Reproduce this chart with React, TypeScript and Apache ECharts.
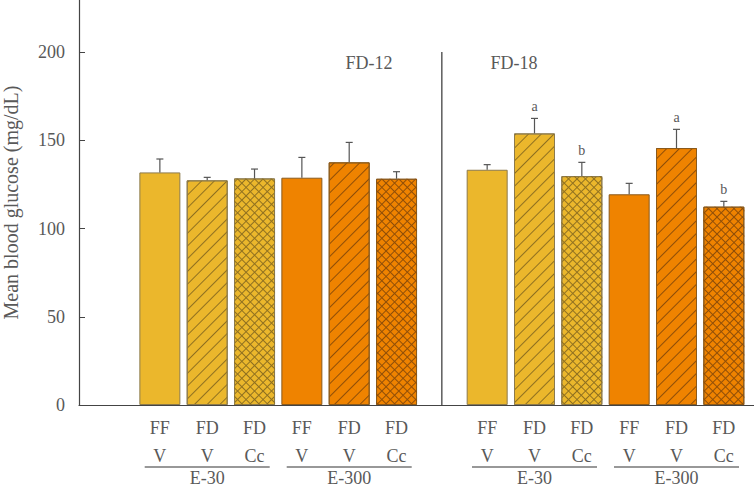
import React, { useEffect, useRef } from 'react';
import * as echarts from 'echarts';

const categories = ['FF\nV', 'FD\nV', 'FD\nCc', 'FF\nV', 'FD\nV', 'FD\nCc'];
const doseGroups = ['E-30', 'E-300'];
const periods = ['FD-12', 'FD-18'];
const meansFD12 = [131.8, 127.3, 128.4, 128.8, 137.5, 128.2];
const errFD12 = [7.6, 1.7, 5.3, 11.5, 11.3, 4.0];
const lettersFD12 = ['', '', '', '', '', ''];
const meansFD18 = [133.3, 153.9, 129.7, 119.4, 145.6, 112.4];
const errFD18 = [2.9, 8.5, 7.8, 6.2, 10.6, 3.0];
const lettersFD18 = ['', 'a', 'b', '', 'a', 'b'];
const patterns = ['none', 'diag', 'cross', 'none', 'diag', 'cross'];
const yTicks = [0, 50, 100, 150, 200];

const FONT = 'Liberation Serif';
const TXT = '#595959';
const Y_MAX = 229.5;
const fills = ['#EBB72C', '#EF8300'];
const borders = ['#8c7a4c', '#8a5a1c'];
const hatch = ['#8f7020', '#8f4e08'];

function decalFor(kind: string, dose: number, dir: number) {
  if (kind === 'none') return undefined;
  const gap = kind === 'diag' ? 7.6 : 5.0;
  return {
    symbol: 'rect',
    symbolSize: 1,
    dashArrayX: [1, 0],
    dashArrayY: [0.9, gap],
    rotation: dir * Math.PI / 4,
    color: hatch[dose],
  };
}

function seriesFor(g: number, means: number[], errs: number[], letters: string[]) {
  const idx = g + 1;
  const barData = means.map((v, i) => {
    const dose = i < 3 ? 0 : 1;
    const d = decalFor(patterns[i], dose, -1);
    return {
      value: v,
      itemStyle: {
        color: fills[dose],
        borderColor: borders[dose],
        borderWidth: 1,
        ...(d ? { decal: d } : {}),
      },
    };
  });
  const overlayData = means.map((v, i) => {
    const dose = i < 3 ? 0 : 1;
    if (patterns[i] !== 'cross') return '-';
    return {
      value: v,
      itemStyle: { color: 'rgba(0,0,0,0)', borderWidth: 0, decal: decalFor('cross', dose, 1) },
    };
  });
  return [
    {
      type: 'bar', xAxisIndex: idx, yAxisIndex: idx, barWidth: 41, barGap: '-100%',
      data: barData, silent: true, z: 2,
    },
    {
      type: 'bar', xAxisIndex: idx, yAxisIndex: idx, barWidth: 41, barGap: '-100%',
      data: overlayData, silent: true, z: 3,
    },
    {
      type: 'custom', xAxisIndex: idx, yAxisIndex: idx, z: 5, silent: true,
      data: means.map((v, i) => [i, v, errs[i]]),
      renderItem: (params: any, api: any) => {
        const x = api.value(0);
        const m = api.value(1);
        const e = api.value(2);
        const base = api.coord([x, m]);
        const top = api.coord([x, m + e]);
        const st = { stroke: '#555555', lineWidth: 1.2 };
        const children: any[] = [
          { type: 'line', shape: { x1: base[0], y1: base[1], x2: top[0], y2: top[1] }, style: st },
          { type: 'line', shape: { x1: top[0] - 3.5, y1: top[1], x2: top[0] + 3.5, y2: top[1] }, style: st },
        ];
        const letter = letters[params.dataIndex];
        if (letter) {
          children.push({
            type: 'text', x: top[0], y: top[1] - 12,
            style: { text: letter, fill: TXT, font: `14px "${FONT}"`, textAlign: 'center', textVerticalAlign: 'middle' },
          });
        }
        return { type: 'group', children };
      },
    },
  ];
}

export default function App() {
  const ref = useRef<HTMLDivElement>(null);
  useEffect(() => {
    if (!ref.current) return;
    const chart = echarts.init(ref.current, undefined, { renderer: 'svg' });
    const gridTop = 0;
    const gridH = 405;
    const option: any = {
      animation: false,
      textStyle: { fontFamily: FONT },
      grid: [
        { left: 79, top: gridTop, width: 675, height: gridH, outerBoundsMode: 'none', containLabel: false },
        { left: 136.2, top: gridTop, width: 284, height: gridH, outerBoundsMode: 'none', containLabel: false },
        { left: 463.5, top: gridTop, width: 284, height: gridH, outerBoundsMode: 'none', containLabel: false },
      ],
      xAxis: [
        {
          type: 'value', gridIndex: 0, min: 0, max: 1,
          axisLine: { show: true, lineStyle: { color: '#444', width: 1.2 } },
          axisTick: { show: false }, axisLabel: { show: false }, splitLine: { show: false },
        },
        ...[1, 2].map((gi) => ({
          type: 'category', gridIndex: gi, data: categories,
          axisLine: { show: false }, axisTick: { show: false }, splitLine: { show: false },
          axisLabel: { interval: 0, fontSize: 18, lineHeight: 28, color: TXT, margin: 9, fontFamily: FONT },
        })),
        ...[1, 2].map((gi) => ({
          type: 'category', gridIndex: gi, data: doseGroups, position: 'bottom', offset: 66,
          axisLine: { show: false }, axisTick: { show: false }, splitLine: { show: false },
          axisLabel: { interval: 0, fontSize: 18, lineHeight: 14, color: TXT, margin: 0, fontFamily: FONT },
        })),
      ],
      yAxis: [
        {
          type: 'value', gridIndex: 0, min: 0, max: Y_MAX,
          axisLine: { show: true, lineStyle: { color: '#444', width: 1.2 } },
          axisTick: { show: true, inside: true, length: 6, customValues: yTicks, lineStyle: { color: '#444' } },
          axisLabel: { customValues: yTicks, fontSize: 18, color: TXT, margin: 14, fontFamily: FONT },
          splitLine: { show: false },
          name: 'Mean blood glucose (mg/dL)', nameLocation: 'middle', nameGap: 58,
          nameTextStyle: { fontSize: 20, color: TXT, fontFamily: FONT },
        },
        ...[1, 2].map((gi) => ({
          type: 'value', gridIndex: gi, min: 0, max: Y_MAX, show: false, splitLine: { show: false },
        })),
      ],
      series: [
        ...seriesFor(0, meansFD12, errFD12, lettersFD12),
        ...seriesFor(1, meansFD18, errFD18, lettersFD18),
      ],
    };
    chart.setOption(option);

    const yTop = chart.convertToPixel({ yAxisIndex: 0 }, 200) as number;
    const yBase = chart.convertToPixel({ yAxisIndex: 0 }, 0) as number;
    const dividerX = (136.2 + 284 + 463.5) / 2;
    const graphics: any[] = [
      { type: 'line', shape: { x1: dividerX, y1: yTop, x2: dividerX, y2: yBase }, style: { stroke: '#333', lineWidth: 1.2 } },
      { type: 'text', x: 369, y: 63, style: { text: periods[0], fill: TXT, font: `18px "${FONT}"`, textAlign: 'center', textVerticalAlign: 'middle' } },
      { type: 'text', x: 514, y: 63, style: { text: periods[1], fill: TXT, font: `18px "${FONT}"`, textAlign: 'center', textVerticalAlign: 'middle' } },
    ];
    [3, 4].forEach((ai) => {
      doseGroups.forEach((dg) => {
        const cx = chart.convertToPixel({ xAxisIndex: ai }, dg) as number;
        graphics.push({ type: 'line', shape: { x1: cx - 62.5, y1: 467, x2: cx + 62.5, y2: 467 }, style: { stroke: '#333', lineWidth: 1.2 } });
      });
    });
    chart.setOption({ graphic: graphics });
    return () => chart.dispose();
  }, []);
  return <div ref={ref} style={{ position: 'absolute', left: 0, top: 0, width: 754, height: 489 }} />;
}
